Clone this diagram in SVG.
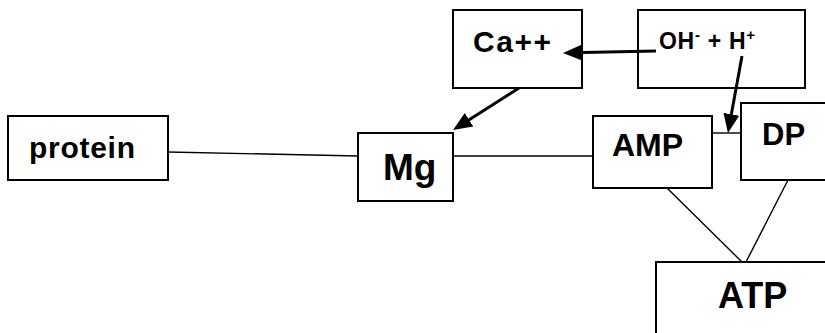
<svg xmlns="http://www.w3.org/2000/svg" width="825" height="333" viewBox="0 0 825 333">
<defs>
<style>
.box{fill:#fff;stroke:#000;stroke-width:2}
.t{font-family:"Liberation Sans",Arial,sans-serif;font-weight:bold;fill:#000}
.ln{stroke:#000;stroke-width:1.4;fill:none}
.ar{stroke:#000;stroke-width:3;fill:none;marker-end:url(#ah)}
</style>
<marker id="ah" viewBox="0 0 19 16" markerWidth="19" markerHeight="16" refX="11" refY="8" orient="auto" markerUnits="userSpaceOnUse">
<path d="M0,0 L19,8 L0,16 z" fill="#000"/>
</marker>
</defs>
<rect width="825" height="333" fill="#fff"/>
<g id="protein">
<rect class="box" x="8" y="116" width="160" height="64"/>
<text class="t" x="29" y="158" font-size="30" textLength="106" lengthAdjust="spacing">protein</text>
</g>
<g id="Mg">
<rect class="box" x="358" y="133" width="95" height="68"/>
<text class="t" x="383" y="180" font-size="37">Mg</text>
</g>
<g id="Ca">
<rect class="box" x="453" y="10" width="129" height="78"/>
<text class="t" x="473" y="52" font-size="30" textLength="78" lengthAdjust="spacing">Ca++</text>
</g>
<g id="OHH">
<rect class="box" x="638" y="10" width="167" height="78"/>
<text class="t" x="659" y="49" font-size="23" textLength="96" lengthAdjust="spacing">OH<tspan font-size="15" dy="-9">-</tspan><tspan dy="9"> + H</tspan><tspan font-size="15" dy="-9">+</tspan></text>
</g>
<g id="AMP">
<rect class="box" x="593" y="116" width="119" height="72"/>
<text class="t" x="612" y="156" font-size="32">AMP</text>
</g>
<g id="DP">
<rect class="box" x="741" y="103" width="100" height="77"/>
<text class="t" x="762" y="145" font-size="31">DP</text>
</g>
<g id="ATP">
<rect class="box" x="656" y="262" width="200" height="100"/>
<text class="t" x="718" y="308" font-size="36">ATP</text>
</g>
<g id="connectors">
<line class="ln" x1="168" y1="152" x2="358" y2="156"/>
<line class="ln" x1="453" y1="156" x2="593" y2="156"/>
<line class="ln" x1="712" y1="133" x2="741" y2="133"/>
<line class="ln" x1="667" y1="188" x2="742" y2="262"/>
<line class="ln" x1="788" y1="180" x2="746" y2="262"/>
<line class="ar" x1="656" y1="51" x2="571" y2="52.8"/>
<line class="ar" x1="519" y1="88" x2="459.8" y2="125.7"/>
<line class="ar" x1="742" y1="56" x2="729.4" y2="125.1"/>
</g>
</svg>
